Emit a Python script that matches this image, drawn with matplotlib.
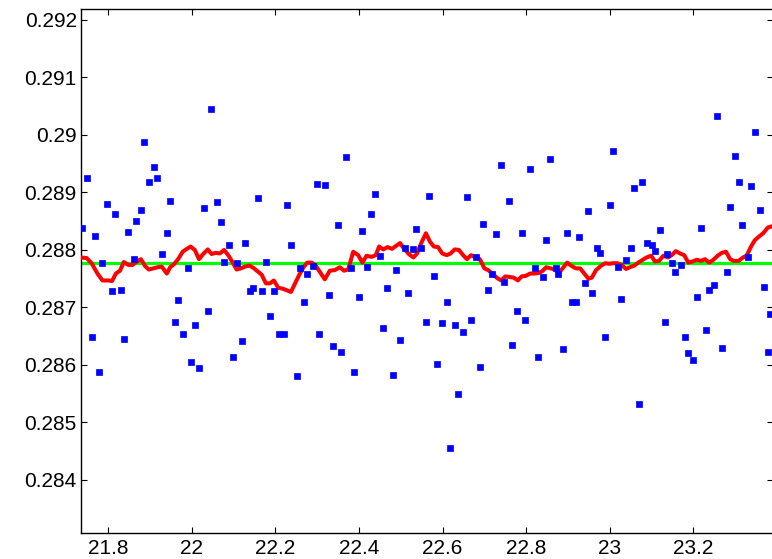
import matplotlib
matplotlib.use("Agg")
import matplotlib.pyplot as plt

# scattered measurements (blue squares)
x_points = [
    21.738, 21.748, 21.760, 21.768, 21.778, 21.786, 21.798, 21.809, 21.817, 21.830,
    21.837, 21.847, 21.861, 21.867, 21.877, 21.886, 21.898, 21.909, 21.916, 21.928,
    21.940, 21.948, 21.959, 21.967, 21.978, 21.990, 21.998, 22.008, 22.016, 22.028,
    22.039, 22.046, 22.059, 22.070, 22.077, 22.089, 22.098, 22.108, 22.120, 22.128,
    22.139, 22.146, 22.158, 22.168, 22.177, 22.188, 22.197, 22.208, 22.220, 22.227,
    22.238, 22.251, 22.258, 22.269, 22.276, 22.290, 22.299, 22.305, 22.319, 22.327,
    22.338, 22.350, 22.357, 22.369, 22.381, 22.389, 22.399, 22.406, 22.419, 22.429,
    22.437, 22.449, 22.457, 22.468, 22.480, 22.488, 22.498, 22.511, 22.518, 22.529,
    22.537, 22.549, 22.559, 22.567, 22.579, 22.586, 22.598, 22.610, 22.618, 22.629,
    22.637, 22.649, 22.659, 22.667, 22.679, 22.690, 22.697, 22.709, 22.717, 22.728,
    22.740, 22.748, 22.759, 22.766, 22.779, 22.789, 22.797, 22.809, 22.820, 22.827,
    22.840, 22.847, 22.858, 22.871, 22.877, 22.889, 22.897, 22.909, 22.919, 22.927,
    22.940, 22.947, 22.958, 22.970, 22.977, 22.989, 23.000, 23.008, 23.020, 23.027,
    23.039, 23.050, 23.058, 23.070, 23.078, 23.088, 23.101, 23.109, 23.119, 23.131,
    23.138, 23.150, 23.157, 23.170, 23.180, 23.188, 23.200, 23.208, 23.218, 23.230,
    23.238, 23.249, 23.256, 23.268, 23.280, 23.287, 23.300, 23.310, 23.317, 23.330,
    23.337, 23.348, 23.360, 23.368, 23.379, 23.384,
]
y_points = [
    0.28838, 0.28926, 0.28649, 0.28824, 0.28587, 0.28777, 0.28880, 0.28729, 0.28862, 0.28731,
    0.28646, 0.28832, 0.28784, 0.28851, 0.28870, 0.28987, 0.28918, 0.28945, 0.28926, 0.28793,
    0.28830, 0.28886, 0.28675, 0.28713, 0.28654, 0.28769, 0.28606, 0.28670, 0.28595, 0.28873,
    0.28694, 0.29046, 0.28884, 0.28849, 0.28779, 0.28809, 0.28614, 0.28777, 0.28641, 0.28813,
    0.28729, 0.28734, 0.28890, 0.28729, 0.28779, 0.28685, 0.28729, 0.28654, 0.28654, 0.28878,
    0.28809, 0.28580, 0.28769, 0.28710, 0.28758, 0.28772, 0.28915, 0.28654, 0.28913, 0.28721,
    0.28633, 0.28843, 0.28622, 0.28961, 0.28769, 0.28587, 0.28718, 0.28833, 0.28771, 0.28863,
    0.28897, 0.28790, 0.28664, 0.28734, 0.28582, 0.28766, 0.28643, 0.28803, 0.28726, 0.28801,
    0.28836, 0.28803, 0.28675, 0.28894, 0.28755, 0.28601, 0.28673, 0.28710, 0.28456, 0.28670,
    0.28550, 0.28657, 0.28892, 0.28678, 0.28788, 0.28597, 0.28846, 0.28731, 0.28758, 0.28827,
    0.28947, 0.28744, 0.28886, 0.28635, 0.28694, 0.28830, 0.28678, 0.28941, 0.28769, 0.28614,
    0.28753, 0.28817, 0.28958, 0.28769, 0.28758, 0.28627, 0.28830, 0.28710, 0.28710, 0.28822,
    0.28742, 0.28867, 0.28725, 0.28803, 0.28795, 0.28649, 0.28878, 0.28972, 0.28771, 0.28715,
    0.28782, 0.28803, 0.28907, 0.28533, 0.28918, 0.28812, 0.28809, 0.28798, 0.28835, 0.28675,
    0.28793, 0.28777, 0.28761, 0.28774, 0.28649, 0.28620, 0.28608, 0.28718, 0.28838, 0.28660,
    0.28730, 0.28739, 0.29033, 0.28630, 0.28761, 0.28875, 0.28964, 0.28918, 0.28843, 0.28788,
    0.28911, 0.29006, 0.28870, 0.28736, 0.28622, 0.28689,
]

# smoothed curve (red)
x_smooth = [
    21.734, 21.748, 21.760, 21.774, 21.786, 21.800, 21.809, 21.818, 21.828, 21.837,
    21.848, 21.858, 21.869, 21.878, 21.888, 21.897, 21.908, 21.918, 21.928, 21.940,
    21.948, 21.958, 21.967, 21.978, 21.988, 21.997, 22.007, 22.017, 22.027, 22.038,
    22.047, 22.057, 22.067, 22.077, 22.087, 22.097, 22.107, 22.117, 22.127, 22.137,
    22.147, 22.157, 22.167, 22.177, 22.187, 22.196, 22.207, 22.216, 22.227, 22.237,
    22.247, 22.257, 22.267, 22.276, 22.287, 22.297, 22.306, 22.318, 22.330, 22.342,
    22.354, 22.364, 22.374, 22.386, 22.398, 22.408, 22.418, 22.430, 22.440, 22.448,
    22.458, 22.468, 22.479, 22.490, 22.498, 22.507, 22.519, 22.530, 22.539, 22.550,
    22.560, 22.570, 22.579, 22.589, 22.599, 22.610, 22.619, 22.629, 22.639, 22.649,
    22.658, 22.668, 22.679, 22.689, 22.700, 22.709, 22.720, 22.731, 22.740, 22.750,
    22.760, 22.770, 22.780, 22.789, 22.799, 22.809, 22.819, 22.830, 22.838, 22.848,
    22.859, 22.869, 22.878, 22.889, 22.898, 22.909, 22.919, 22.929, 22.939, 22.949,
    22.957, 22.967, 22.978, 22.989, 22.999, 23.008, 23.018, 23.028, 23.039, 23.048,
    23.059, 23.068, 23.079, 23.088, 23.099, 23.108, 23.118, 23.128, 23.139, 23.148,
    23.158, 23.168, 23.178, 23.188, 23.198, 23.208, 23.218, 23.228, 23.238, 23.248,
    23.258, 23.268, 23.278, 23.288, 23.297, 23.308, 23.317, 23.328, 23.338, 23.347,
    23.358, 23.367, 23.378, 23.387,
]
y_smooth = [
    0.28787, 0.28786, 0.28777, 0.28759, 0.28747, 0.28747, 0.28746, 0.28759, 0.28764, 0.28779,
    0.28774, 0.28774, 0.28780, 0.28784, 0.28772, 0.28766, 0.28768, 0.28770, 0.28771, 0.28759,
    0.28770, 0.28776, 0.28784, 0.28797, 0.28802, 0.28806, 0.28800, 0.28784, 0.28793, 0.28801,
    0.28793, 0.28795, 0.28794, 0.28800, 0.28791, 0.28779, 0.28766, 0.28768, 0.28771, 0.28773,
    0.28769, 0.28763, 0.28757, 0.28742, 0.28742, 0.28747, 0.28734, 0.28733, 0.28730, 0.28727,
    0.28742, 0.28757, 0.28770, 0.28778, 0.28778, 0.28772, 0.28762, 0.28749, 0.28764, 0.28765,
    0.28770, 0.28764, 0.28766, 0.28797, 0.28791, 0.28778, 0.28790, 0.28788, 0.28791, 0.28806,
    0.28801, 0.28805, 0.28802, 0.28808, 0.28812, 0.28803, 0.28793, 0.28787, 0.28794, 0.28814,
    0.28829, 0.28814, 0.28806, 0.28805, 0.28794, 0.28791, 0.28794, 0.28801, 0.28800, 0.28791,
    0.28784, 0.28791, 0.28787, 0.28784, 0.28768, 0.28765, 0.28758, 0.28751, 0.28747, 0.28754,
    0.28753, 0.28752, 0.28747, 0.28754, 0.28755, 0.28759, 0.28759, 0.28760, 0.28763, 0.28770,
    0.28768, 0.28766, 0.28760, 0.28770, 0.28778, 0.28772, 0.28768, 0.28768, 0.28759, 0.28750,
    0.28752, 0.28765, 0.28772, 0.28777, 0.28776, 0.28777, 0.28777, 0.28774, 0.28767, 0.28770,
    0.28773, 0.28778, 0.28783, 0.28787, 0.28790, 0.28780, 0.28781, 0.28790, 0.28787, 0.28791,
    0.28798, 0.28794, 0.28791, 0.28778, 0.28780, 0.28783, 0.28781, 0.28784, 0.28778, 0.28783,
    0.28790, 0.28795, 0.28797, 0.28784, 0.28781, 0.28781, 0.28786, 0.28791, 0.28806, 0.28817,
    0.28824, 0.28829, 0.28839, 0.28841,
]

# overall mean level (green)
mean_level = 0.28777

x_ticks = [21.8, 22.0, 22.2, 22.4, 22.6, 22.8, 23.0, 23.2]
x_ticklabels = ["21.8", "22", "22.2", "22.4", "22.6", "22.8", "23", "23.2"]
y_ticks = [0.284, 0.285, 0.286, 0.287, 0.288, 0.289, 0.290, 0.291, 0.292]
y_ticklabels = ["0.284", "0.285", "0.286", "0.287", "0.288", "0.289", "0.29", "0.291", "0.292"]

plt.rcParams["font.family"] = ["Liberation Sans", "DejaVu Sans"]

W, H = 772, 559
fig = plt.figure(figsize=(W / 100, H / 100), dpi=100)
ax = fig.add_axes([81 / W, 26 / H, (773 - 81) / W, (533 - 9) / H])

ax.axhline(mean_level, color=(0, 1, 0), linewidth=2.3, zorder=2)
ax.plot(x_smooth, y_smooth, color=(1, 0, 0), linewidth=2.9, zorder=3)
ax.plot(x_points, y_points, linestyle="none", marker="s", markersize=4.3,
        markerfacecolor=(0, 0, 1), markeredgecolor=(0, 0, 1), markeredgewidth=0.5, zorder=4)

ax.set_xlim(21.7346, 23.3905)
ax.set_ylim(0.283078, 0.292191)

ax.set_xticks(x_ticks)
ax.set_xticklabels(x_ticklabels)
ax.set_yticks(y_ticks)
ax.set_yticklabels(y_ticklabels)

ax.tick_params(direction="in", length=4.3, width=0.8, top=True, right=True,
               labelsize=15, colors="black")
ax.tick_params(axis="x", pad=4)
ax.tick_params(axis="y", pad=3)
for s in ax.spines.values():
    s.set_linewidth(1.0)

fig.savefig("out.png", dpi=100)
